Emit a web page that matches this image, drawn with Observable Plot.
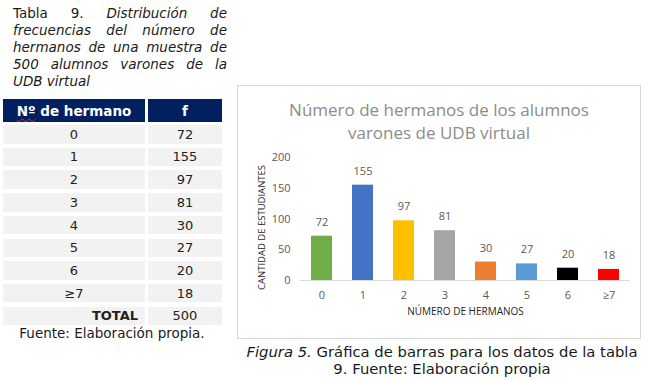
<!DOCTYPE html>
<html><head><meta charset="utf-8">
<script src="https://cdn.jsdelivr.net/npm/d3@7"></script>
<script src="https://cdn.jsdelivr.net/npm/@observablehq/plot@0.6"></script>
<style>
body{margin:0;background:#fff;}
#page{position:relative;width:648px;height:381px;overflow:hidden;font-family:"DejaVu Sans",Verdana,sans-serif;color:#1a1a1a;}
.cap{position:absolute;left:13px;top:5px;width:214px;font-size:13.5px;line-height:16.9px;}
.cap .j{text-align:justify;text-align-last:justify;}
.cell{position:absolute;display:flex;align-items:center;justify-content:center;font-size:13px;background:#f2f2f2;color:#222;box-sizing:border-box;}
.hdr{background:#002060;color:#fff;font-weight:bold;font-size:13.5px;}
.nw{text-decoration:underline wavy #d33;text-decoration-thickness:1px;text-underline-offset:2px;}
#src{position:absolute;left:2px;width:220px;top:325px;text-align:center;font-size:13.5px;line-height:17px;}
#fig{position:absolute;left:237px;width:410px;top:343px;text-align:center;font-size:14.8px;line-height:17px;}
</style></head>
<body><div id="page">
<div class="cap">
<div class="j">Tabla 9. <i>Distribución de</i></div>
<div class="j"><i>frecuencias del número de</i></div>
<div class="j"><i>hermanos de una muestra de</i></div>
<div class="j"><i>500 alumnos varones de la</i></div>
<div><i>UDB virtual</i></div>
</div>
<div id="src">Fuente: Elaboración propia.</div>
<div id="fig"><i>Figura 5.</i> Gráfica de barras para los datos de la tabla<br>9. Fuente: Elaboración propia</div>
</div>
<script>
const siblings = ["0","1","2","3","4","5","6","≥7"];
const freq = [72,155,97,81,30,27,20,18];
const totalLabel = "TOTAL";
const total = 500;
const headers = ["Nº de hermano","f"];
const colors = ["#70ad47","#4472c4","#ffc000","#a5a5a5","#ed7d31","#5b9bd5","#000000","#ff0000"];
const yTicks = [0,50,100,150,200];
const chartTitle = "Número de hermanos de los alumnos\nvarones de UDB virtual";
const yTitle = "CANTIDAD DE ESTUDIANTES";
const xTitle = "NÚMERO DE HERMANOS";

const page = document.getElementById("page");
function cell(text, left, top, w, h, cls, html, align){
  const d = document.createElement("div");
  d.className = "cell " + (cls||"");
  d.style.left = left+"px"; d.style.top = top+"px"; d.style.width = w+"px"; d.style.height = h+"px";
  if (html) d.innerHTML = html; else d.textContent = text;
  if (align) { d.style.justifyContent = align; d.style.paddingRight = "7px"; }
  page.appendChild(d);
  return d;
}
const c1 = {l:3,w:142}, c2 = {l:148,w:74};
cell("",c1.l,99,c1.w,23,"hdr",'<span class="nw">Nº</span>&nbsp;de hermano');
cell(headers[1],c2.l,99,c2.w,23,"hdr");
const rows = siblings.map((s,i)=>[s,String(freq[i])]);
rows.forEach((r,i)=>{
  const t = 125 + i*22.7;
  cell(r[0],c1.l,t,c1.w,18.5);
  cell(r[1],c2.l,t,c2.w,18.5);
});
const tt = 125 + rows.length*22.7;
const tc = cell(totalLabel,c1.l,tt,c1.w,18.5,"",null,"flex-end");
tc.style.fontWeight="bold";
cell(String(total),c2.l,tt,c2.w,18.5);

const data = siblings.map((k,i)=>({k, f:freq[i]}));
const chart = Plot.plot({
  width:404, height:254, marginLeft:63, marginRight:11, marginTop:72, marginBottom:59,
  style:{fontFamily:"'Open Sans', sans-serif", background:"transparent", overflow:"visible"},
  x:{domain:siblings, paddingInner:0.49, paddingOuter:0.245, label:null},
  y:{domain:[0,200], label:null},
  color:{domain:siblings, range:colors},
  marks:[
    Plot.axisY({ticks:yTicks, tickSize:0, tickPadding:10, fontSize:11, color:"#595959", label:null}),
    Plot.axisX({tickSize:0, tickPadding:11, fontSize:11, color:"#595959", label:null}),
    Plot.barY(data,{x:"k", y:"f", fill:"k"}),
    Plot.ruleY([0],{stroke:"#d9d9d9"}),
    Plot.text(data,{x:"k", y:"f", text:d=>String(d.f), dy:-14, fill:"#595959", fontSize:11}),
    Plot.text([chartTitle],{frameAnchor:"top", dx:-26.5, dy:-37.5, lineAnchor:"middle", lineHeight:1.35, fontSize:17, fill:"#8c8c8c"}),
    Plot.text([yTitle],{frameAnchor:"left", textAnchor:"middle", rotate:-90, dx:-39, dy:8.5, fontSize:9.5, fill:"#262626"}),
    Plot.text([xTitle],{frameAnchor:"bottom", dy:34, fontSize:10, fill:"#262626"})
  ]
});
chart.style.position="absolute";
chart.style.left="237px";
chart.style.top="85px";
chart.style.outline="1px solid #d9d9d9";
chart.style.outlineOffset="-1px";
page.appendChild(chart);
</script>
</body></html>
